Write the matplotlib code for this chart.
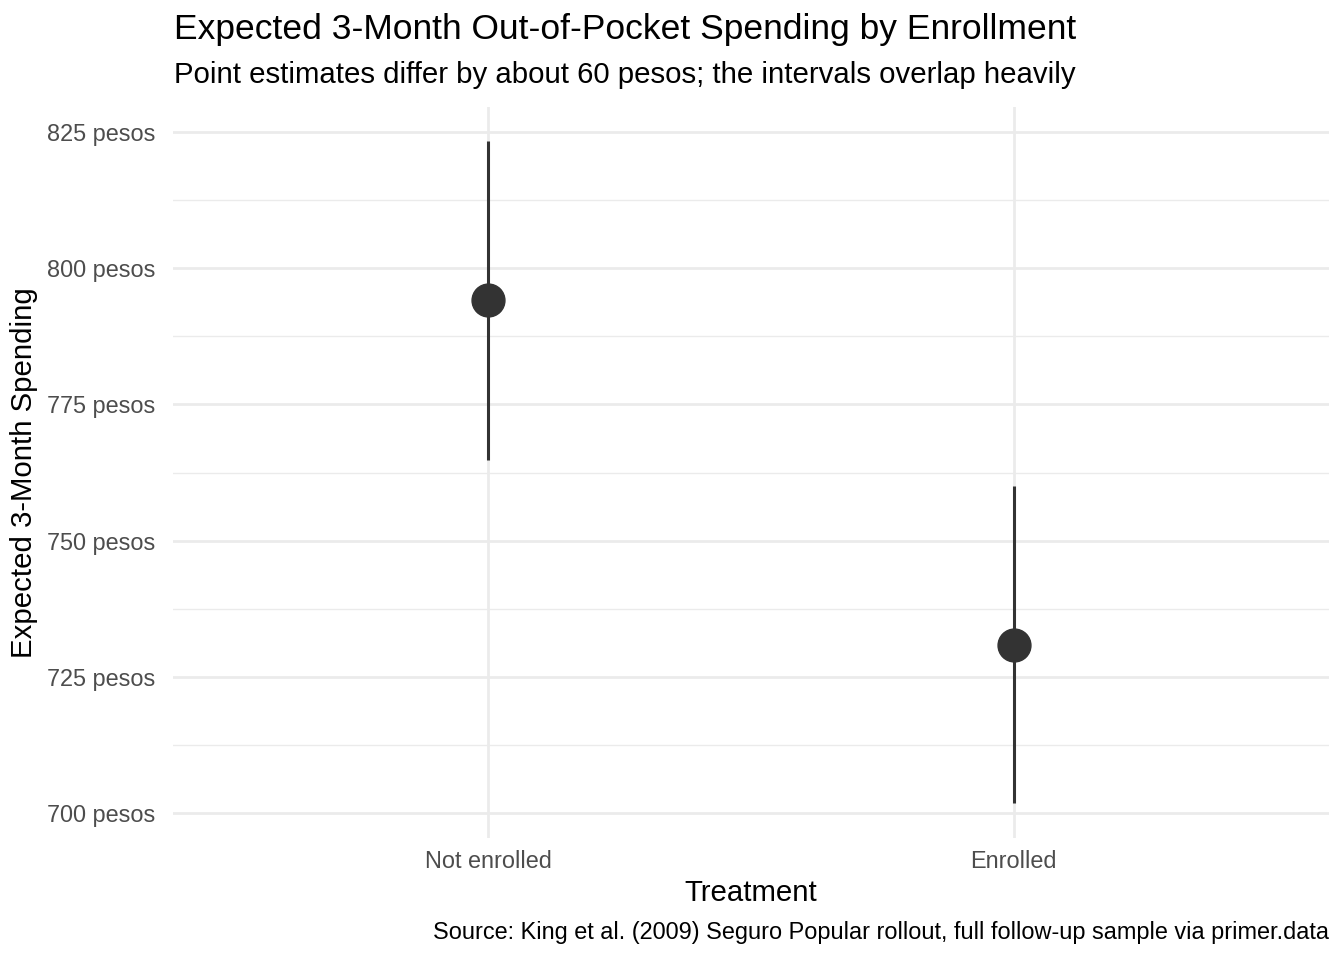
import matplotlib
matplotlib.use("Agg")
from matplotlib import pyplot as plt

plt.rcParams['font.family'] = ['Liberation Sans', 'DejaVu Sans']

# data
groups = ["Not enrolled", "Enrolled"]
estimate = [794.2, 730.8]
lower = [764.8, 701.8]
upper = [823.3, 760.0]

fig = plt.figure(figsize=(13.44, 9.6), dpi=100)
ax = fig.add_axes([173/1344, 1 - 838/960, (1329-173)/1344, (838-107)/960])

xs = list(range(1, len(groups) + 1))
ax.vlines(xs, lower, upper, color="#333333", linewidth=2.2, zorder=3)
ax.scatter(xs, estimate, s=560, color="#333333", zorder=4)

ax.set_xlim(0.4, 2.6)
ax.set_ylim(695.4, 829.6)
ax.set_xticks(xs)
ax.set_xticklabels(groups)
major = [700, 725, 750, 775, 800, 825]
ax.set_yticks(major)
ax.set_yticklabels([f"{v} pesos" for v in major])
ax.set_yticks([712.5, 737.5, 762.5, 787.5, 812.5], minor=True)
ax.grid(which="major", color="#ebebeb", linewidth=2.0)
ax.grid(which="minor", axis="y", color="#ebebeb", linewidth=1.0)
ax.set_axisbelow(True)
for s in ax.spines.values():
    s.set_visible(False)
ax.tick_params(which="both", length=0, labelsize=16.9, labelcolor="#4d4d4d", pad=13)
ax.tick_params(axis="x", pad=9)

ax.set_xlabel("Treatment", fontsize=21.2, labelpad=4)
ax.set_ylabel("Expected 3-Month Spending", fontsize=21.2, labelpad=6)

fig.text(174/1344, 1 - 29/960, "Expected 3-Month Out-of-Pocket Spending by Enrollment",
         fontsize=25.5, va="center")
fig.text(174/1344, 1 - 75/960, "Point estimates differ by about 60 pesos; the intervals overlap heavily",
         fontsize=21.2, va="center")
fig.text(1329/1344, 1 - 932/960,
         "Source: King et al. (2009) Seguro Popular rollout, full follow-up sample via primer.data",
         fontsize=16.9, ha="right", va="center")

fig.savefig("out.png", dpi=100)
